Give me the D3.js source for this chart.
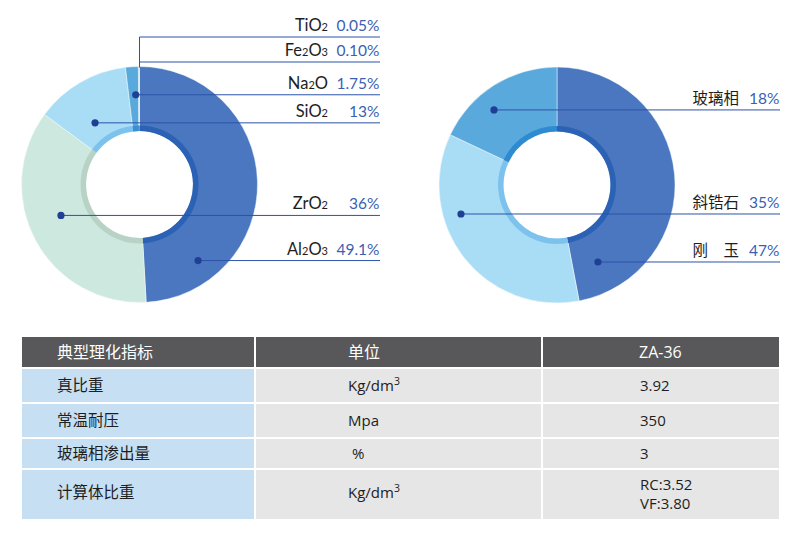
<!DOCTYPE html>
<html><head><meta charset="utf-8">
<script src="https://cdn.jsdelivr.net/npm/d3@7"></script>
<style>body{margin:0;background:#fff}svg{display:block}</style>
</head><body>
<svg id="c" width="800" height="538"></svg>
<script>
// ---- data ----
const leftNames = ["Al2O3","ZrO2","SiO2","Na2O","Fe2O3","TiO2"];
const leftValues = [49.1,36,13,1.75,0.10,0.05];
const leftPct = ["49.1%","36%","13%","1.75%","0.10%","0.05%"];
const rightNames = ["刚　玉","斜锆石","玻璃相"];
const rightValues = [47,35,18];
const rightPct = ["47%","35%","18%"];
const tableHeader = ["典型理化指标","单位","ZA-36"];
const tableCol1 = ["真比重","常温耐压","玻璃相渗出量","计算体比重"];
const tableCol2 = ["Kg/dm3","Mpa"," %","Kg/dm3"];
const tableCol3 = [["3.92"],["350"],["3"],["RC:3.52","VF:3.80"]];

// ---- layout / style ----
const leftColors = ["#4a77bf","#cde8de","#a9ddf6","#5aa9dd","#5aa9dd","#5aa9dd"];
const leftBand = ["#2b62b5","#b8d2c6","#7dc2ec","#3a8fd4","#3a8fd4","#3a8fd4"];
const rightColors = ["#4a77bf","#a9ddf6","#5aa9dd"];
const rightBand = ["#2b62b5","#7dc2ec","#2e8bd1"];
const leftDot = [[142.4,96],[248.5,84.4],[324.2,76],[357.6,89.8],null,null];
const leftFixedY = [null,null,null,null,62,37];
const rightDot = [[152,87.2],[253.2,100.3],[320,98]];

const svg = d3.select("#c");
const R = 118, rIn = 53.5, rBand = 59;
const lineCol = "#2d52a8", dotCol = "#1f3f95", pctCol = "#3a5fb4";

function fmtFormula(sel, s){
  const parts = s.match(/[A-Za-z]+|\d+/g);
  parts.forEach(p=>{
    if(/\d/.test(p)) sel.append("tspan").attr("font-size",11).text(p);
    else sel.append("tspan").text(p);
  });
}

function donut(cx, cy, values, colors, band, names, pcts, dots, fixedY, nameX, pctX, lineEnd, formula){
  const g = svg.append("g").attr("transform",`translate(${cx},${cy})`);
  const pie = d3.pie().sort(null).value(d=>d)(values);
  const arc = d3.arc().innerRadius(rIn).outerRadius(R);
  const arcBand = d3.arc().innerRadius(rIn).outerRadius(rBand);
  g.selectAll("path.s").data(pie).join("path").attr("class","s")
    .attr("d",arc).attr("fill",(d,i)=>colors[i]).attr("stroke","#f4fbf8").attr("stroke-width",0.5);
  g.selectAll("path.b").data(pie).join("path").attr("class","b")
    .attr("d",arcBand).attr("fill",(d,i)=>band[i]);
  names.forEach((n,i)=>{
    let y, x0;
    if(dots[i]){
      const a = dots[i][0]*Math.PI/180, r = dots[i][1];
      x0 = cx + r*Math.sin(a); y = cy - r*Math.cos(a);
    } else {
      y = fixedY[i]; x0 = cx;
    }
    svg.append("line").attr("x1",x0).attr("x2",lineEnd).attr("y1",y).attr("y2",y)
      .attr("stroke",lineCol).attr("stroke-width",1);
    if(dots[i]) svg.append("circle").attr("cx",x0).attr("cy",y).attr("r",3.6).attr("fill",dotCol);
    const t = svg.append("text").attr("x",nameX).attr("y",y-6).attr("text-anchor","end")
      .attr("font-family", formula ? "Lato, 'Noto Sans'" : "'Noto Sans CJK SC'")
      .attr("font-size",formula?16.5:15.5).attr("fill","#1e1e1e");
    if(formula) fmtFormula(t,n); else t.text(n);
    svg.append("text").attr("x",pctX).attr("y",y-6).attr("text-anchor","end")
      .attr("font-family","Lato, 'Noto Sans'").attr("font-weight",400)
      .attr("font-size",15.5).attr("fill",pctCol).text(pcts[i]);
  });
  if(fixedY.some(v=>v!=null)){
    const ys = d3.min(fixedY.filter(v=>v!=null));
    svg.append("line").attr("x1",cx).attr("x2",cx).attr("y1",ys).attr("y2",cy-R+1)
      .attr("stroke",lineCol).attr("stroke-width",1);
  }
}

donut(139.5,184.5,leftValues,leftColors,leftBand,leftNames,leftPct,leftDot,leftFixedY,328,379.5,380,true);
donut(557,185,rightValues,rightColors,rightBand,rightNames,rightPct,rightDot,[null,null,null],739,779.5,780,false);

// ---- table ----
const colX = [22,256,543], colW = [232,285,236];
const rowTop = [337,369,404,439,470], rowH = [30,33,33,29,49];
const textX = [57,348,640];
const tf = "'Noto Sans CJK SC','Open Sans',sans-serif";
const tg = svg.append("g");
colX.forEach((x,j)=>{
  tg.append("rect").attr("x",x).attr("y",rowTop[0]).attr("width",colW[j]).attr("height",rowH[0]).attr("fill","#58585a");
  tg.append("text").attr("x",textX[j]-(j==2?1:0)).attr("y",rowTop[0]+rowH[0]/2+6)
    .attr("font-family",j==2?"'Open Sans'":tf).attr("font-size",16).attr("fill","#fff").text(tableHeader[j]);
});
tableCol1.forEach((v,i)=>{
  const y = rowTop[i+1], h = rowH[i+1];
  const cy = i==3 ? y+22 : y+h/2;
  colX.forEach((x,j)=>{
    tg.append("rect").attr("x",x).attr("y",y).attr("width",colW[j]).attr("height",h)
      .attr("fill", j==0 ? "#c6dff2" : "#e6e6e6");
  });
  tg.append("text").attr("x",textX[0]).attr("y",cy+5.5).attr("font-family",tf).attr("font-size",15.5).attr("fill","#1e1e1e").text(v);
  const u = tableCol2[i];
  const t2 = tg.append("text").attr("x",textX[1]).attr("y",cy+5.5).attr("font-family","'Open Sans'").attr("font-size",15).attr("fill","#1e1e1e").attr("xml:space","preserve");
  if(u.endsWith("3")){
    t2.append("tspan").text(u.slice(0,-1));
    t2.append("tspan").attr("font-size",10.5).attr("dy",-6).text("3");
  } else t2.text(u);
  const vals = tableCol3[i];
  vals.forEach((s,k)=>{
    const yy = vals.length==1 ? cy+5.5 : y+20+k*19;
    tg.append("text").attr("x",textX[2]).attr("y",yy).attr("font-family","'Open Sans'").attr("font-size",15).attr("fill","#1e1e1e").text(s);
  });
});
</script>
</body></html>
